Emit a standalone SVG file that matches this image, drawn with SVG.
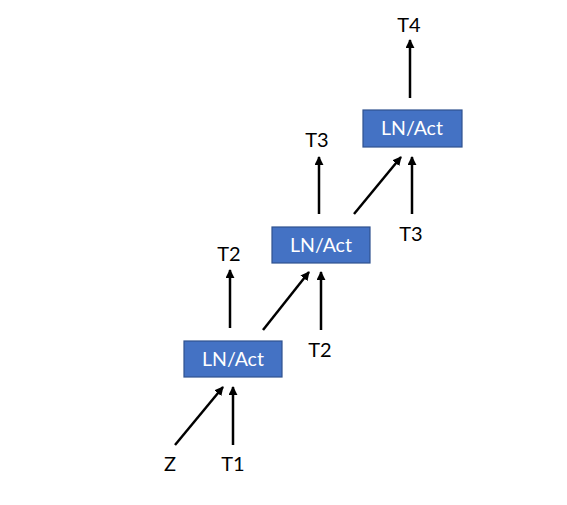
<svg xmlns="http://www.w3.org/2000/svg" width="567" height="505" viewBox="0 0 567 505">
<style>
.box{fill:#4472C4;stroke:#2F528F;stroke-width:1.2}
.bt{fill:#fff;font-family:Lato,"Liberation Sans",sans-serif;font-size:19.5px;text-anchor:middle}
.lb{fill:#000;font-family:Lato,"Liberation Sans",sans-serif;font-size:20px;text-anchor:middle}
.ar{stroke:#000;stroke-width:2.5;fill:none;marker-end:url(#ah)}
</style>
<defs>
<marker id="ah" viewBox="0 0 10 10" refX="9" refY="5" markerWidth="3.6" markerHeight="3.6" orient="auto" markerUnits="strokeWidth">
<path d="M0,0 L10,5 L0,10 z" fill="#000"/>
</marker>
</defs>
<rect width="567" height="505" fill="#fff"/>
<g id="connectors">
<line class="ar" x1="175" y1="445" x2="223" y2="387"/>
<line class="ar" x1="233" y1="445" x2="233" y2="387"/>
<line class="ar" x1="230" y1="328" x2="230" y2="270"/>
<line class="ar" x1="263" y1="330" x2="309" y2="272"/>
<line class="ar" x1="321" y1="330" x2="321" y2="272"/>
<line class="ar" x1="319" y1="214" x2="319" y2="157"/>
<line class="ar" x1="354" y1="214" x2="401" y2="157"/>
<line class="ar" x1="412" y1="214" x2="412" y2="157"/>
<line class="ar" x1="410" y1="98" x2="410" y2="40"/>
</g>
<g id="node1">
<rect class="box" x="184" y="341" width="98" height="36"/>
<text class="bt" x="233" y="366">LN/Act</text>
</g>
<g id="node2">
<rect class="box" x="272" y="227" width="98" height="36"/>
<text class="bt" x="321" y="252">LN/Act</text>
</g>
<g id="node3">
<rect class="box" x="363" y="110" width="99" height="37"/>
<text class="bt" x="412" y="135">LN/Act</text>
</g>
<g id="labels">
<text class="lb" x="170" y="471">Z</text>
<text class="lb" x="233" y="471">T1</text>
<text class="lb" x="229" y="261">T2</text>
<text class="lb" x="320" y="357">T2</text>
<text class="lb" x="317" y="147">T3</text>
<text class="lb" x="411" y="241">T3</text>
<text class="lb" x="409" y="32">T4</text>
</g>
</svg>
